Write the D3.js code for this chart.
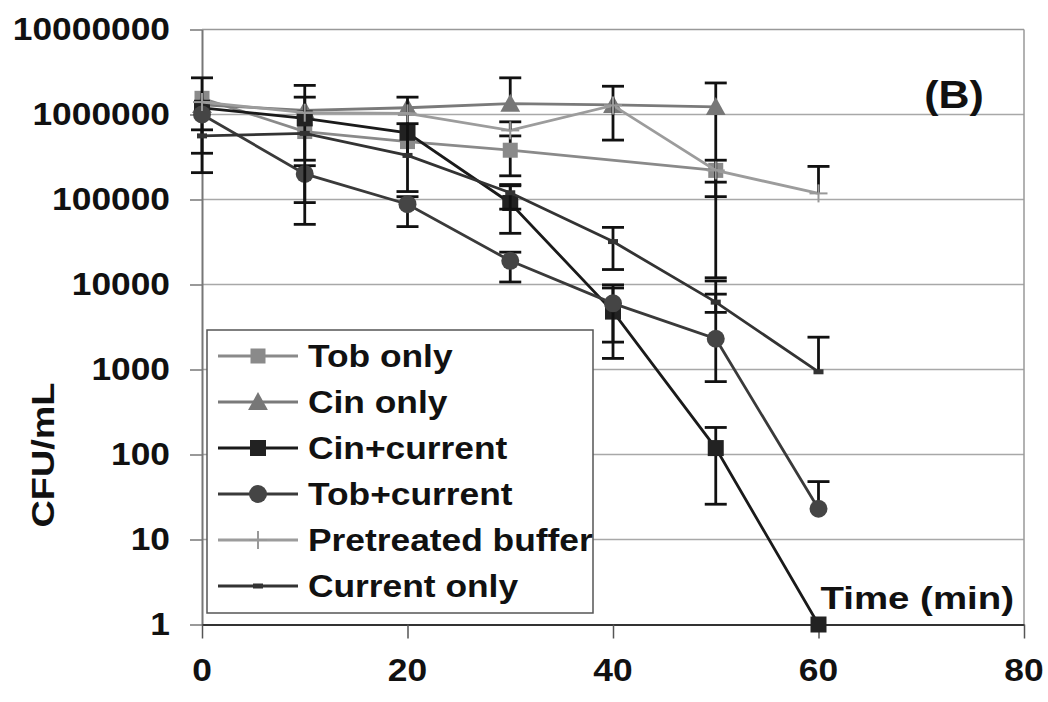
<!DOCTYPE html>
<html>
<head>
<meta charset="utf-8">
<script src="https://cdn.jsdelivr.net/npm/d3@7"></script>
<style>
  html, body { margin: 0; padding: 0; background: #fff; }
  svg { display: block; }
</style>
</head>
<body>
<script>
// ---------- data ----------
const times = [0, 10, 20, 30, 40, 50, 60];
const seriesNames = ["Tob only", "Cin only", "Cin+current", "Tob+current", "Pretreated buffer", "Current only"];

const tobOnly      = [1.55e6, 6.3e5, 4.8e5, 3.8e5, null, 2.2e5, null];
const cinOnly      = [1.3e6, 1.12e6, 1.2e6, 1.34e6, 1.3e6, 1.23e6, null];
const cinCurrent   = [1.2e6, 9.0e5, 6.1e5, 9.1e4, 4.8e3, 119, 1];
const tobCurrent   = [1.0e6, 2.0e5, 8.8e4, 1.9e4, 6.0e3, 2.3e3, 23];
const pretreated   = [1.4e6, 1.05e6, 1.03e6, 6.5e5, 1.28e6, 2.2e5, 1.18e5];
const currentOnly  = [5.6e5, 6.0e5, 3.3e5, 1.2e5, 3.2e4, 6.2e3, 940];

const tobOnlyHi     = [null, null, null, 5.6e5, null, 2.9e5, null];
const tobOnlyLo     = [null, null, null, 1.9e5, null, 1.6e5, null];
const cinOnlyHi     = [null, null, null, 2.7e6, null, 2.35e6, null];
const cinOnlyLo     = [null, null, null, null, null, 1.2e4, null];
const cinCurrentHi  = [2.7e6, 1.6e6, 1.6e6, 1.5e5, 9.1e3, 208, null];
const cinCurrentLo  = [3.5e5, 2.9e5, 1.24e5, 4.0e4, 1350, 26, null];
const tobCurrentHi  = [null, 2.5e5, 1.08e5, 2.4e4, 9.9e3, 1.1e4, 48];
const tobCurrentLo  = [2.07e5, 5.1e4, 4.8e4, 1.07e4, 2.1e3, 720, null];
const pretreatedHi  = [null, 2.2e6, null, 8.2e5, 2.15e6, null, 2.45e5];
const pretreatedLo  = [null, null, null, null, 5.0e5, 1.08e5, null];
const currentOnlyHi = [6.6e5, null, 7.8e5, 1.45e5, 4.7e4, 7.7e3, 2.4e3];
const currentOnlyLo = [null, 9.2e4, null, 7.7e4, 1.5e4, 4.7e3, null];

const xTicks = [0, 20, 40, 60, 80];
const yTicks = [1, 10, 100, 1000, 10000, 100000, 1000000, 10000000];
const yTickLabels = ["1", "10", "100", "1000", "10000", "100000", "1000000", "10000000"];

// ---------- setup ----------
const W = 1048, H = 702;
const pLeft = 202, pRight = 1024, pTop = 29.5, pBottom = 624.5;
const FONT = "'Liberation Sans', Arial, sans-serif";
const SX = 1.14;

const svg = d3.select("body").append("svg").attr("width", W).attr("height", H);
const x = d3.scaleLinear().domain([0, 80]).range([pLeft, pRight]);
const y = d3.scaleLog().domain([1, 1e7]).range([pBottom, pTop]);

function txt(g, s, px, py, size, anchor, sx, rot) {
  const t = g.append("g").attr("transform", `translate(${px},${py})` + (rot ? ` rotate(${rot})` : "") + ` scale(${sx},1)`);
  t.append("text").attr("x", 0).attr("y", 0).attr("text-anchor", anchor)
    .attr("dominant-baseline", "central")
    .style("font-family", FONT).style("font-weight", "bold").style("font-size", size + "px")
    .attr("fill", "#111").text(s);
  return t;
}

// gridlines
svg.append("g").selectAll("line").data(yTicks.filter(v => v > 1 && v < 1e7)).join("line")
  .attr("x1", pLeft).attr("x2", pRight).attr("y1", d => y(d)).attr("y2", d => y(d))
  .attr("stroke", "#a8a8a8").attr("stroke-width", 1.5);

// frame
svg.append("line").attr("x1", pLeft).attr("x2", pRight).attr("y1", pTop).attr("y2", pTop).attr("stroke", "#999").attr("stroke-width", 1.5);
svg.append("line").attr("x1", pRight).attr("x2", pRight).attr("y1", pTop).attr("y2", pBottom).attr("stroke", "#999").attr("stroke-width", 1.5);

// axes with d3
const yAxis = d3.axisLeft(y).tickValues(yTicks).tickFormat(() => "").tickSize(12).tickSizeOuter(0);
const gy = svg.append("g").attr("transform", `translate(${pLeft},0)`).call(yAxis);
gy.select(".domain").attr("stroke", "#777").attr("stroke-width", 2);
gy.selectAll(".tick line").attr("stroke", "#777").attr("stroke-width", 1.5);

const xAxis = d3.axisBottom(x).tickValues(xTicks).tickFormat(() => "").tickSize(14).tickSizeOuter(0);
const gx = svg.append("g").attr("transform", `translate(0,${pBottom})`).call(xAxis);
gx.select(".domain").attr("stroke", "#333").attr("stroke-width", 2);
gx.selectAll(".tick line").attr("stroke", "#555").attr("stroke-width", 1.5);

// tick labels
const labels = svg.append("g");
yTicks.forEach((v, i) => txt(labels, yTickLabels[i], 170, y(v), 31, "end", SX));
xTicks.forEach(v => txt(labels, String(v), x(v), 670, 31, "middle", SX));
txt(labels, "CFU/mL", 43, 455, 31, "middle", SX + 0.08, -90);

// ---------- series ----------
const series = [
  { name: seriesNames[0], vals: tobOnly, hi: tobOnlyHi, lo: tobOnlyLo, color: "#8a8a8a", marker: "square", mcol: "#8a8a8a", msize: 15 },
  { name: seriesNames[1], vals: cinOnly, hi: cinOnlyHi, lo: cinOnlyLo, color: "#7a7a7a", marker: "triangle", mcol: "#777", msize: 18 },
  { name: seriesNames[2], vals: cinCurrent, hi: cinCurrentHi, lo: cinCurrentLo, color: "#1a1a1a", marker: "square", mcol: "#222", msize: 16 },
  { name: seriesNames[3], vals: tobCurrent, hi: tobCurrentHi, lo: tobCurrentLo, color: "#3a3a3a", marker: "circle", mcol: "#454545", msize: 18 },
  { name: seriesNames[4], vals: pretreated, hi: pretreatedHi, lo: pretreatedLo, color: "#9c9c9c", marker: "plus", mcol: "#999", msize: 18 },
  { name: seriesNames[5], vals: currentOnly, hi: currentOnlyHi, lo: currentOnlyLo, color: "#333", marker: "dash", mcol: "#333", msize: 10 },
];

function drawMarker(g, type, cx, cy, col, s) {
  if (type === "square") {
    g.append("rect").attr("x", cx - s / 2).attr("y", cy - s / 2).attr("width", s).attr("height", s).attr("fill", col);
  } else if (type === "triangle") {
    g.append("path").attr("d", `M${cx},${cy - s * 0.55} L${cx + s * 0.55},${cy + s * 0.45} L${cx - s * 0.55},${cy + s * 0.45} Z`).attr("fill", col);
  } else if (type === "circle") {
    g.append("circle").attr("cx", cx).attr("cy", cy).attr("r", s / 2).attr("fill", col);
  } else if (type === "plus") {
    g.append("line").attr("x1", cx - s / 2).attr("x2", cx + s / 2).attr("y1", cy).attr("y2", cy).attr("stroke", col).attr("stroke-width", 2);
    g.append("line").attr("x1", cx).attr("x2", cx).attr("y1", cy - s / 2).attr("y2", cy + s / 2).attr("stroke", col).attr("stroke-width", 2);
  } else if (type === "dash") {
    g.append("rect").attr("x", cx - s / 2).attr("y", cy - 2.5).attr("width", s).attr("height", 5).attr("fill", col);
  }
}

const line = d3.line().defined(d => d.v != null).x(d => x(d.t)).y(d => y(d.v));
const CAP = 11;
const SW = 2.8;

series.forEach(s => {
  const g = svg.append("g");
  const pts = times.map((t, i) => ({ t, v: s.vals[i], hi: s.hi[i], lo: s.lo[i] }));
  const valid = pts.filter(d => d.v != null);
  g.append("path").datum(valid).attr("d", line).attr("fill", "none").attr("stroke", s.color).attr("stroke-width", SW);
  valid.forEach(d => {
    const cx = x(d.t), cy = y(d.v);
    if (d.hi != null) {
      g.append("line").attr("x1", cx).attr("x2", cx).attr("y1", cy).attr("y2", y(d.hi)).attr("stroke", "#111").attr("stroke-width", SW);
      g.append("line").attr("x1", cx - CAP).attr("x2", cx + CAP).attr("y1", y(d.hi)).attr("y2", y(d.hi)).attr("stroke", "#111").attr("stroke-width", SW);
    }
    if (d.lo != null) {
      g.append("line").attr("x1", cx).attr("x2", cx).attr("y1", cy).attr("y2", y(d.lo)).attr("stroke", "#111").attr("stroke-width", SW);
      g.append("line").attr("x1", cx - CAP).attr("x2", cx + CAP).attr("y1", y(d.lo)).attr("y2", y(d.lo)).attr("stroke", "#111").attr("stroke-width", SW);
    }
  });
  valid.forEach(d => drawMarker(g, s.marker, x(d.t), y(d.v), s.mcol, s.msize));
});

// ---------- legend ----------
const lg = svg.append("g");
lg.append("rect").attr("x", 207).attr("y", 330).attr("width", 386).attr("height", 283)
  .attr("fill", "#fff").attr("stroke", "#555").attr("stroke-width", 1.5);
series.forEach((s, i) => {
  const ly = 356 + i * 46;
  lg.append("line").attr("x1", 218).attr("x2", 298).attr("y1", ly).attr("y2", ly).attr("stroke", s.color).attr("stroke-width", SW);
  drawMarker(lg, s.marker, 258, ly, s.mcol, s.msize);
  txt(lg, s.name, 308, ly, 31, "start", SX);
});

// annotations
txt(svg, "Time (min)", 1014, 598, 31, "end", 1.24);
txt(svg, "(B)", 954, 95, 39, "middle", 1.1);
</script>
</body>
</html>
